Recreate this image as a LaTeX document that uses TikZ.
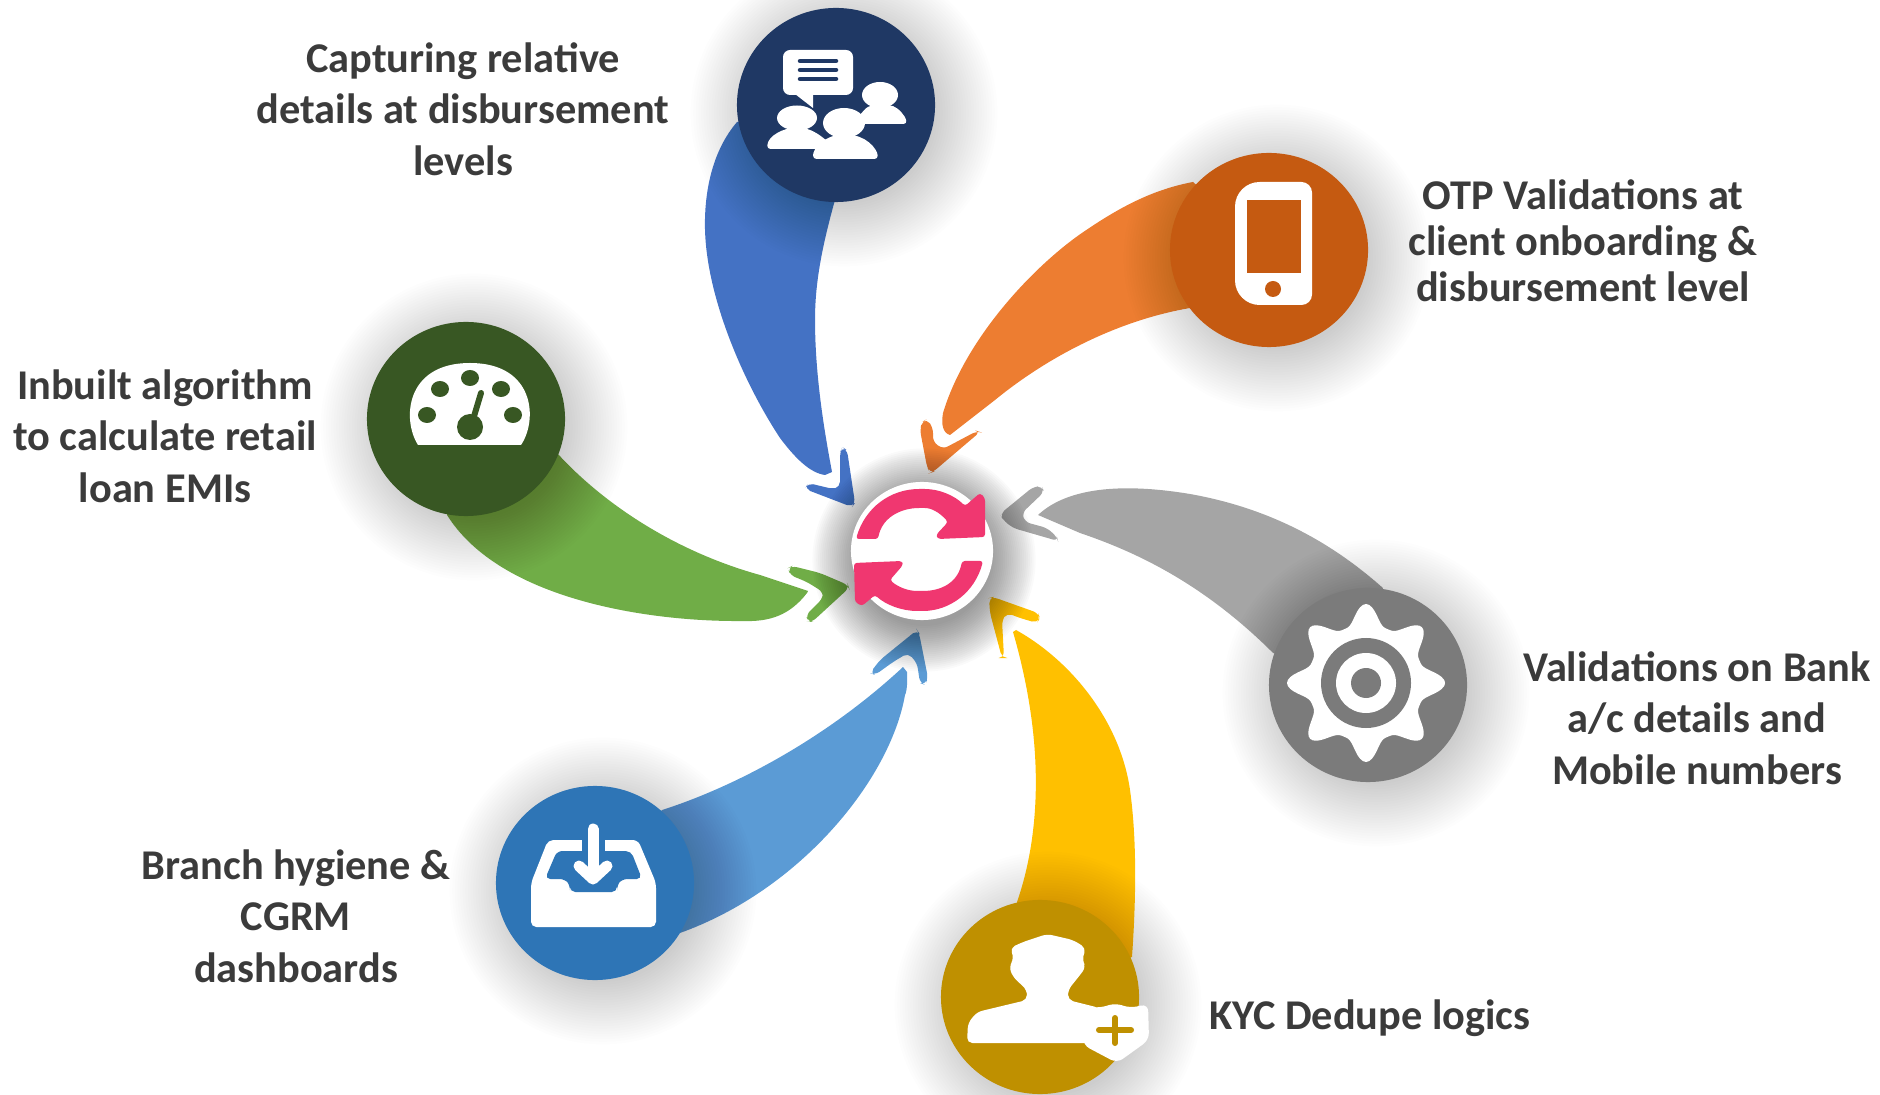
\documentclass[tikz,border=0pt]{standalone}
\usepackage{fontspec}
\setmainfont{Carlito}
\usetikzlibrary{backgrounds,shapes.geometric}
\definecolor{inktext}{HTML}{3B3B3B}
\definecolor{syncpink}{HTML}{F03770}
\definecolor{chatdark}{HTML}{1F3864}
\definecolor{chatlight}{HTML}{4472C4}
\definecolor{phonedark}{HTML}{C55A11}
\definecolor{phonelight}{HTML}{ED7D31}
\definecolor{geardark}{HTML}{7B7B7B}
\definecolor{gearlight}{HTML}{A5A5A5}
\definecolor{kycdark}{HTML}{BF9000}
\definecolor{kyclight}{HTML}{FFC000}
\definecolor{inboxdark}{HTML}{2E75B6}
\definecolor{inboxlight}{HTML}{5B9BD5}
\definecolor{gaugedark}{HTML}{385723}
\definecolor{gaugelight}{HTML}{70AD47}
\begin{document}
\begin{tikzpicture}[x=0.01cm,y=-0.01cm]
\tikzstyle{hub} = [ellipse, minimum width=1.98cm, minimum height=1.94cm, inner sep=0pt, outer sep=0pt]
\tikzstyle{caption} = [align=center, text=inktext, font=\fontsize{12.05}{14.6}\selectfont\bfseries]
\tikzstyle{head} = [rounded corners=1.5pt]
\tikzstyle{icon} = [fill=white]
\useasboundingbox (0,0) rectangle (1880,1095);
% hubs
\node (chat)[hub, fill=chatdark] at (836,105) {};
\node (phone)[hub, fill=phonedark] at (1269,250) {};
\node (gear)[hub, fill=geardark] at (1368,685) {};
\node (kyc)[hub, fill=kycdark] at (1040,997) {};
\node (inbox)[hub, fill=inboxdark] at (595,883) {};
\node (gauge)[hub, fill=gaugedark] at (466,419) {};
\node (sync)[ellipse, minimum width=1.42cm, minimum height=1.38cm, inner sep=0pt, fill=white] at (922,551) {};
% texts
\node (captext)[caption] at (463,109) {Capturing relative\\details at disbursement\\levels};
\node (otptext)[caption, font=\fontsize{12.05}{13.1}\selectfont\bfseries] at (1583,241) {OTP Validations at\\client onboarding \&\\disbursement level};
\node (gaugetext)[caption] at (165,436) {Inbuilt algorithm\\to calculate retail\\loan EMIs};
\node (inboxtext)[caption] at (296,916) {Branch hygiene \&\\CGRM\\dashboards};
\node (geartext)[caption] at (1697,718) {Validations on Bank\\a/c details and\\Mobile numbers};
\node (kyctext)[caption] at (1370,1018) {KYC Dedupe logics};
% chat icon
\fill[icon, rounded corners=2pt] (783,50) rectangle (853,95);
\fill[icon] (795,94) -- (813,108) -- (813,94) -- cycle;
\foreach \y in {61,70,79}
  \draw[line width=.045cm, line cap=round, chatdark] (800,\y) -- (836,\y);
\fill[icon] (797,118) ellipse (20 and 12.5);
\fill[icon, rounded corners=1pt] (767,149) .. controls (768,135) and (785,128) .. (797,128) .. controls (810,128) and (820,135) .. (828,142) -- (825,149) -- cycle;
\fill[icon] (880,95) ellipse (18 and 13);
\fill[icon, rounded corners=1pt] (857,118) -- (868,106) -- (890,105) .. controls (898,108) and (905,115) .. (907,124) -- (860,124) -- cycle;
\fill[icon] (844,123) ellipse (21 and 15);
\fill[icon, rounded corners=1pt] (813,159) .. controls (813,148) and (825,135) .. (845,135) .. controls (865,135) and (877,148) .. (878,159) -- cycle;
% phone icon
\fill[icon, rounded corners=3pt] (1235,182) -- (1312,182) -- (1312,305) [rounded corners=7pt] -- (1235,305) -- cycle;
\fill[phonedark] (1247,200) rectangle (1301,273);
\fill[phonedark] (1273,289) circle (8);
% gear icon
\fill[icon] plot[domain=0:360, samples=161, smooth] ({1366+(58+21*pow(0.5+0.5*cos(8*\x),1.6))*cos(\x)},{683+(58+21*pow(0.5+0.5*cos(8*\x),1.6))*sin(\x)}) -- cycle;
\fill[geardark] (1366,683) circle (45);
\fill[icon] (1366,683) circle (30);
\fill[geardark] (1366,683) circle (15);
% kyc icon
\fill[icon, rounded corners=1.5pt] (967,1043) -- (968,1023) -- (977,1012) -- (1027,1000) -- (1027,990) -- (1013,977) -- (1009,967) -- (1014,958) -- (1010,948) -- (1023,942) -- (1047,934) -- (1073,940) -- (1086,948) -- (1082,960) -- (1086,967) -- (1080,975) -- (1068,990) -- (1068,1000) -- (1100,1008) -- (1100,1043) -- cycle;
\fill[icon, rounded corners=2pt] (1083,1006) -- (1100,1008) -- (1115,1003) -- (1130,1008) -- (1148,1004) -- (1149,1040) -- (1117,1063) -- (1083,1045) -- cycle;
\draw[line width=.06cm, line cap=round, kycdark] (1099,1030) -- (1131,1030) (1115,1018) -- (1115,1043);
% inbox icon
\fill[icon, rounded corners=1.5pt] (548,840) -- (638,840) -- (656,883) -- (656,927) -- (531,927) -- (531,883) -- cycle;
\fill[inboxdark, rounded corners=1.5pt] (557,851) -- (631,851) -- (642,879) -- (622,879) -- (617,885) -- (617,892) -- (570,892) -- (570,885) -- (565,879) -- (545,879) -- cycle;
\fill[inboxdark] (582,835) rectangle (605,853);
\draw[white, line width=.11cm, line cap=round] (593,829) -- (593,876);
\draw[white, line width=.11cm, line cap=round, line join=round] (579,866) -- (593,879) -- (607,866);
% gauge icon
\fill[icon] (418,445) .. controls (402,420) and (405,363) .. (470,363) .. controls (535,363) and (538,420) .. (521,445) -- cycle;
\foreach \x/\y in {427/415,440/389,470/378,501/389,513/415}
  \fill[gaugedark] (\x,\y) ellipse (9 and 8);
\fill[gaugedark] (470,427) circle (13);
\draw[line width=.06cm, line cap=round, gaugedark] (472,423) -- (481,393);
% sync icon
\fill[syncpink, rounded corners=.8pt] (856,539) .. controls (865,508) and (890,489) .. (922,489) .. controls (940,489) and (955,496) .. (965,506) -- (980,493) -- (985,498) -- (985,537) -- (938,539) -- (936,535) -- (948,522) .. controls (940,513) and (932,508) .. (922,508) .. controls (900,508) and (882,518) .. (878,539) -- cycle;
\fill[syncpink, rounded corners=.8pt] (983,561) .. controls (975,592) and (950,611) .. (920,611) .. controls (902,611) and (886,605) .. (875,595) -- (862,606) -- (855,602) -- (854,563) -- (902,561) -- (903,565) -- (890,580) .. controls (898,587) and (908,591) .. (920,591) .. controls (942,591) and (958,582) .. (962,561) -- cycle;
\begin{scope}[on background layer]
% arrow bodies
\fill[chatlight] (chat.center) -- (737,122) .. controls (713,150) and (704,190) .. (705,230) .. controls (707,300) and (745,385) .. (780,438) .. controls (795,458) and (810,473) .. (825,475) -- (832,472) .. controls (826,440) and (815,380) .. (815,320) .. controls (815,285) and (821,250) .. (835,200) -- cycle;
\fill[head, chatlight] (842,447) -- (847,450) -- (855,503) -- (852,507) -- (805,489) -- (808,483) -- (833,489) -- (840,487) -- (840,453) -- cycle;
\fill[phonelight] (phone.center) -- (1193,182) .. controls (1150,190) and (1115,210) .. (1079,235) .. controls (1030,270) and (965,340) .. (943,413) .. controls (941,425) and (943,433) .. (950,435) -- (995,400) .. controls (1050,355) and (1120,320) .. (1190,308) -- cycle;
\fill[head, phonelight] (922,422) -- (927,419) -- (933,428) -- (933,442) -- (943,449) -- (960,440) -- (977,431) -- (980,432) -- (967,443) -- (933,472) -- (930,473) -- (927,467) -- (920,430) -- cycle;
\fill[gearlight] (gear.center) -- (1383,588) .. controls (1340,550) and (1280,510) .. (1190,494) .. controls (1130,484) and (1070,485) .. (1038,515) -- (1080,533) .. controls (1130,550) and (1200,580) .. (1273,653) -- cycle;
\fill[head, gearlight] (1000,514) -- (1033,487) -- (1042,486) -- (1044,492) -- (1022,513) -- (1025,522) -- (1047,528) -- (1057,537) -- (1058,541) -- (1013,528) -- (1003,520) -- cycle;
\fill[kyclight] (kyc.center) -- (1017,902) .. controls (1035,850) and (1050,760) .. (1013,632) -- (1016,630) .. controls (1070,660) and (1120,720) .. (1130,790) .. controls (1137,840) and (1136,900) .. (1132,957) -- cycle;
\fill[head, kyclight] (989,598) -- (993,597) -- (1038,613) -- (1040,618) -- (1037,623) -- (1020,618) -- (1007,613) -- (1002,620) -- (1004,658) -- (1002,658) -- (990,613) -- cycle;
\fill[inboxlight] (inbox.center) -- (662,810) .. controls (740,785) and (830,735) .. (903,667) -- (907,672) .. controls (908,690) and (905,695) .. (905,695) .. controls (890,780) and (800,890) .. (680,933) -- cycle;
\fill[head, inboxlight] (917,630) -- (919,633) -- (928,678) -- (925,685) -- (920,683) -- (917,663) -- (908,653) -- (893,662) -- (875,675) -- (870,673) -- (880,660) -- cycle;
\fill[gaugelight] (gauge.center) -- (558,454) .. controls (600,500) and (670,550) .. (760,575) -- (808,591) -- (807,593) .. controls (790,615) and (770,622) .. (743,621) .. controls (650,622) and (500,600) .. (447,515) -- cycle;
\fill[head, gaugelight] (788,568) -- (792,566) -- (820,573) -- (848,585) -- (849,588) -- (812,622) -- (808,622) -- (806,615) -- (823,598) -- (823,592) -- (807,582) -- (790,575) -- cycle;
% soft shadows
\foreach \hubname/\rad/\offx/\offy/\grow/\shade in {chat/91/8/8/2.6/.007,phone/91/8/8/2.6/.007,gear/91/8/8/2.6/.007,kyc/91/8/8/2.6/.007,inbox/91/8/8/2.6/.007,gauge/91/8/8/2.6/.007,sync/66/2/9/1.9/.018}
  \foreach \r in {0,...,24}
    \fill[black, opacity=\shade] (\hubname.center) ++(\offx,\offy) circle ({\rad+\grow*\r});
\end{scope}
\end{tikzpicture}
\end{document}
